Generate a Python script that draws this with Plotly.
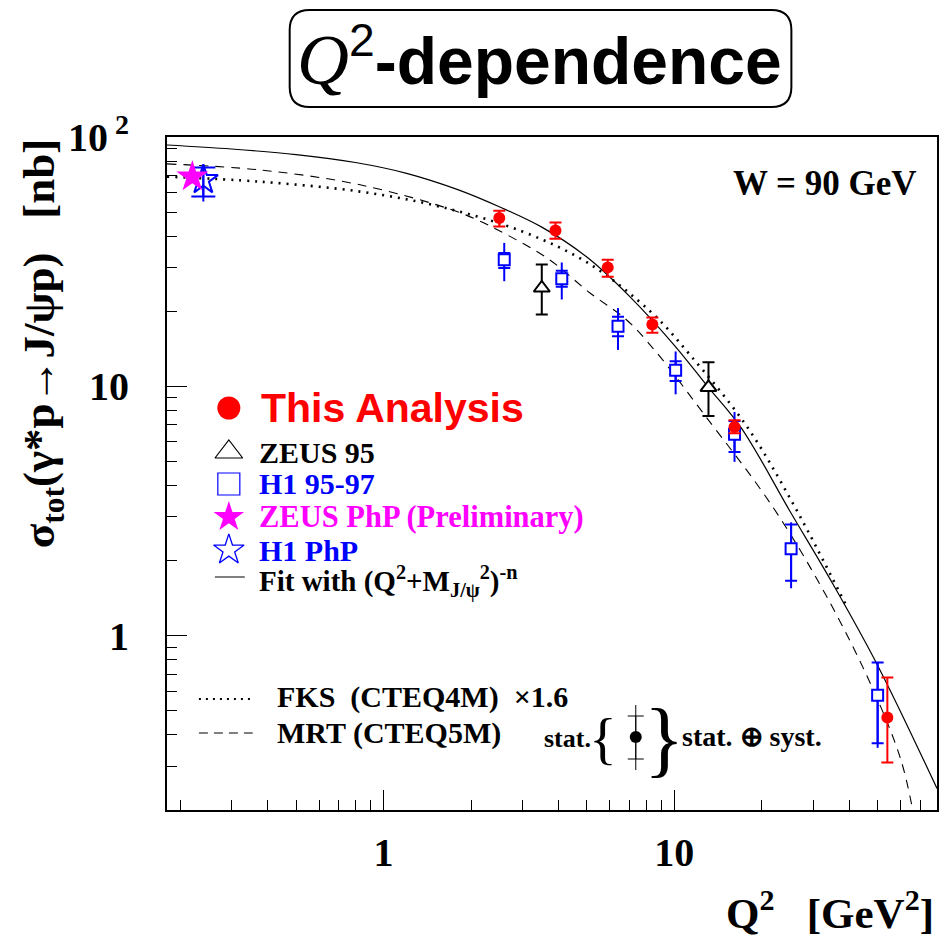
import plotly.graph_objects as go

# ---------------- measurements: sigma_tot(gamma* p -> J/psi p) at W = 90 GeV ----------------
# This analysis
ana_q2 = [2.5, 3.9, 5.9, 8.4, 16.1, 54.0]
ana_sig = [47.3, 42.2, 30.0, 17.7, 6.87, 0.47]
ana_hi = [50.6, 45.4, 32.2, 18.9, 7.31, 0.68]
ana_lo = [43.8, 39.1, 27.5, 16.4, 6.49, 0.31]

# ZEUS 95
z95_q2 = [3.5, 13.1]
z95_sig = [24.8, 9.9]
z95_hi = [30.8, 12.5]
z95_lo = [19.4, 7.6]

# H1 95-97
h1_q2 = [2.6, 4.1, 6.4, 10.1, 16.1, 25.2, 50.0]
h1_sig = [32.2, 27.0, 17.4, 11.6, 6.43, 2.23, 0.577]
h1_stat_hi = [34.3, 29.1, 19.0, 12.6, 7.26, 2.79, 0.78]
h1_stat_lo = [29.8, 25.1, 15.9, 10.5, 5.46, 1.66, 0.37]
h1_tot_hi = [37.6, 31.4, 20.6, 13.8, 7.89, 2.85, 0.785]
h1_tot_lo = [26.4, 22.3, 14.0, 9.29, 4.98, 1.55, 0.355]

# Photoproduction points
zphp_q2 = [0.22]
zphp_sig = [69.3]
h1php_q2 = [0.24]
h1php_sig = [67.3]
h1php_stat_hi = [75.4]
h1php_stat_lo = [57.7]
h1php_tot_hi = [77.8]
h1php_tot_lo = [55.1]

# ---------------- curves ----------------
fit_q2 = [0.18, 0.3, 0.5, 0.8, 1.2, 1.8, 2.5, 3.5, 5.0, 7.0, 10.0, 13.0, 17.0, 25.0, 35.0, 50.0, 80.0]
fit_sig = [92.9, 89.5, 85.0, 79.0, 71.5, 61.5, 52.5, 43.5, 33.0, 23.0, 14.6, 10.0, 6.8, 3.15, 1.62, 0.76, 0.244]

fks_q2 = [0.18, 0.375, 0.83, 1.56, 3.0, 5.1, 8.41, 11.3, 17.7, 25.4, 39.0]
fks_sig = [69.3, 66.2, 60.4, 52.6, 41.8, 31.0, 19.6, 13.4, 6.94, 3.44, 1.32]

mrt_q2 = [0.18, 0.375, 0.83, 1.83, 2.65, 3.72, 5.1, 6.84, 8.67, 12.5, 21.7, 33.3, 47.9, 60.0, 66.0]
mrt_sig = [78.0, 73.8, 64.3, 49.7, 40.6, 32.2, 23.8, 18.5, 13.7, 7.87, 3.31, 1.445, 0.62, 0.32, 0.20]

# axis ticks
x_major = [1, 10]
x_major_text = ["1", "10"]
y_major = [1, 10, 100]
y_major_text = ["1", "10", "10<sup> 2</sup>"]
x_minor = [m * d for d in (0.1, 1, 10) for m in range(2, 10) if 0.18 <= m * d <= 80]
y_minor = [m * d for d in (0.1, 1, 10) for m in range(2, 10) if 0.2 <= m * d <= 100]

# ---------------- geometry helpers (pixel -> paper) ----------------
W, H = 940, 938
L, R, T, B = 167, 939, 137, 810


def px(x):
    return (x - L) / (R - L)


def py(y):
    return (B - y) / (B - T)


SERIF = "Liberation Serif"
SANS = "Liberation Sans"
RED, BLUE, MAG = "#ff0000", "#0000ff", "#ff00ff"


def err(vals, hi, lo):
    return [h - v for h, v in zip(hi, vals)], [v - l for l, v in zip(lo, vals)]


fig = go.Figure()

# curves
fig.add_trace(go.Scatter(x=fit_q2, y=fit_sig, mode="lines",
                         line=dict(color="black", width=1.2, shape="spline")))
fig.add_trace(go.Scatter(x=fks_q2, y=fks_sig, mode="lines",
                         line=dict(color="black", width=2.6, dash="2px,6px", shape="spline")))
fig.add_trace(go.Scatter(x=mrt_q2, y=mrt_sig, mode="lines",
                         line=dict(color="black", width=1.1, dash="9px,7px", shape="spline")))

# H1 95-97: total (no caps) then stat (caps)
p, m = err(h1_sig, h1_tot_hi, h1_tot_lo)
fig.add_trace(go.Scatter(x=h1_q2, y=h1_sig, mode="markers", marker=dict(size=1, color=BLUE),
                         error_y=dict(type="data", array=p, arrayminus=m, color=BLUE,
                                      thickness=2, width=0)))
p, m = err(h1_sig, h1_stat_hi, h1_stat_lo)
fig.add_trace(go.Scatter(x=h1_q2, y=h1_sig, mode="markers",
                         marker=dict(symbol="square", size=11, color="white",
                                     line=dict(color=BLUE, width=2)),
                         error_y=dict(type="data", array=p, arrayminus=m, color=BLUE,
                                      thickness=2, width=6)))

# ZEUS 95
p, m = err(z95_sig, z95_hi, z95_lo)
fig.add_trace(go.Scatter(x=z95_q2, y=z95_sig, mode="markers",
                         marker=dict(symbol="triangle-up", size=14, color="white",
                                     line=dict(color="black", width=2)),
                         error_y=dict(type="data", array=p, arrayminus=m, color="black",
                                      thickness=2, width=6)))

# H1 photoproduction
p, m = err(h1php_sig, h1php_tot_hi, h1php_tot_lo)
fig.add_trace(go.Scatter(x=h1php_q2, y=h1php_sig, mode="markers", marker=dict(size=1, color=BLUE),
                         error_y=dict(type="data", array=p, arrayminus=m, color=BLUE,
                                      thickness=2, width=0)))
p, m = err(h1php_sig, h1php_stat_hi, h1php_stat_lo)
fig.add_trace(go.Scatter(x=h1php_q2, y=h1php_sig, mode="markers",
                         marker=dict(symbol="star-open", size=22, color=BLUE,
                                     line=dict(color=BLUE, width=2)),
                         error_y=dict(type="data", array=p, arrayminus=m, color=BLUE,
                                      thickness=2, width=12)))

# ZEUS photoproduction
fig.add_trace(go.Scatter(x=zphp_q2, y=zphp_sig, mode="markers",
                         marker=dict(symbol="star", size=24, color=MAG, line=dict(width=0))))

# This analysis
p, m = err(ana_sig, ana_hi, ana_lo)
fig.add_trace(go.Scatter(x=ana_q2, y=ana_sig, mode="markers",
                         marker=dict(symbol="circle", size=12, color=RED, line=dict(width=0)),
                         error_y=dict(type="data", array=p, arrayminus=m, color=RED,
                                      thickness=2, width=6)))

# ---------------- legend glyphs on a pixel-space overlay ----------------
leg_x = 229
rows = [408, 452, 484, 517, 550, 580]


def glyph(y, **marker):
    fig.add_trace(go.Scatter(x=[leg_x], y=[y], mode="markers", xaxis="x2", yaxis="y2",
                             marker=marker))


glyph(rows[0], symbol="circle", size=23, color=RED)
glyph(rows[1], symbol="triangle-up-open", size=24, color="black", line=dict(width=1.2))
glyph(rows[2], symbol="square-open", size=22, color=BLUE, line=dict(width=1.2))
glyph(rows[3], symbol="star", size=23, color=MAG)
glyph(rows[4], symbol="star-open", size=23, color=BLUE, line=dict(width=1.3))
fig.add_trace(go.Scatter(x=[215, 245], y=[rows[5] - 3, rows[5] - 3], mode="lines",
                         xaxis="x2", yaxis="y2", line=dict(color="black", width=1)))
fig.add_trace(go.Scatter(x=[199, 253], y=[699, 699], mode="lines", xaxis="x2", yaxis="y2",
                         line=dict(color="black", width=2, dash="2px,5px")))
fig.add_trace(go.Scatter(x=[199, 253], y=[733, 733], mode="lines", xaxis="x2", yaxis="y2",
                         line=dict(color="black", width=1, dash="9px,6px")))
# error-bar key
fig.add_trace(go.Scatter(x=[637], y=[737], mode="markers", xaxis="x2", yaxis="y2",
                         marker=dict(size=1, color="black"),
                         error_y=dict(type="data", array=[33], arrayminus=[32],
                                      color="black", thickness=1, width=0)))
fig.add_trace(go.Scatter(x=[637], y=[737], mode="markers", xaxis="x2", yaxis="y2",
                         marker=dict(size=12, color="black"),
                         error_y=dict(type="data", array=[22], arrayminus=[21],
                                      color="black", thickness=1, width=8)))

# ---------------- text ----------------
ann = []


def text(x, y, s, size, color="black", family=SERIF, xa="left", ya="middle", angle=0):
    ann.append(dict(x=px(x), y=py(y), xref="paper", yref="paper", text=s, showarrow=False,
                    xanchor=xa, yanchor=ya, textangle=angle,
                    font=dict(family=family, size=size, color=color)))


text(259, 408, "<b>This Analysis</b>", 41, RED, SANS)
text(257, 452, "<b>ZEUS 95</b>", 30)
text(257, 484, "<b>H1 95-97</b>", 30, BLUE)
text(257, 517, "<b>ZEUS PhP (Preliminary)</b>", 30.5, MAG)
text(257, 550, "<b>H1 PhP</b>", 30, BLUE)
text(257, 581, "<b>Fit with (Q<sup>2</sup>+M<sub>J/ψ</sub><sup>2</sup>)<sup>-n</sup></b>", 29)
text(275, 697, "<b>FKS  (CTEQ4M)  ×1.6</b>", 30)
text(275, 733, "<b>MRT (CTEQ5M)</b>", 30)
text(543, 738, "<b>stat.</b>", 26)
text(620, 738, "{", 58, xa="right")
text(643, 738, "}", 84)
text(681, 736, "<b>stat. ⊕ syst.</b>", 28)

text(921, 183, "<b>W = 90 GeV</b>", 35, xa="right")
text(938, 910, "<b>Q<sup>2</sup>   [GeV<sup>2</sup>]</b>", 43, xa="right")
text(42, 343, "<b>σ<sub>tot</sub>(γ*p→J/ψp)   [nb]</b>", 45, xa="center", angle=-90)

# title: italic serif Q with superscript 2, then the bold sans word
text(540, 57,
     "<span style='font-family:Liberation Serif;font-size:72px'><i>Q</i></span>"
     "<sup>2</sup><b>-dependence</b>",
     66, family=SANS, xa="center")

# rounded title box
x0, x1, y0, y1, r = 290, 793, 10, 107, 20
path = (f"M {px(x0 + r)},{py(y0)} L {px(x1 - r)},{py(y0)} "
        f"Q {px(x1)},{py(y0)} {px(x1)},{py(y0 + r)} L {px(x1)},{py(y1 - r)} "
        f"Q {px(x1)},{py(y1)} {px(x1 - r)},{py(y1)} L {px(x0 + r)},{py(y1)} "
        f"Q {px(x0)},{py(y1)} {px(x0)},{py(y1 - r)} L {px(x0)},{py(y0 + r)} "
        f"Q {px(x0)},{py(y0)} {px(x0 + r)},{py(y0)} Z")
shapes = [dict(type="path", path=path, xref="paper", yref="paper",
               line=dict(color="black", width=2))]

axis_common = dict(showline=True, linecolor="black", linewidth=2, mirror=True,
                   showgrid=False, zeroline=False, ticks="inside", tickcolor="black",
                   tickwidth=1.2, ticklen=20,
                   tickfont=dict(family=SERIF, size=40, color="black", weight="bold"))

fig.update_layout(
    width=W, height=H, margin=dict(l=L, r=W - R, t=T, b=H - B),
    plot_bgcolor="white", paper_bgcolor="white", showlegend=False,
    xaxis=dict(type="log", range=[-0.7447, 1.9031], tickmode="array",
               tickvals=x_major, ticktext=x_major_text, ticklabelstandoff=6,
               minor=dict(tickmode="array", tickvals=x_minor, ticks="inside", ticklen=10,
                          tickcolor="black", tickwidth=1),
               **axis_common),
    yaxis=dict(type="log", range=[-0.699, 2.0], tickmode="array",
               tickvals=y_major, ticktext=y_major_text, ticklabelstandoff=28,
               minor=dict(tickmode="array", tickvals=y_minor, ticks="inside", ticklen=10,
                          tickcolor="black", tickwidth=1),
               **axis_common),
    xaxis2=dict(overlaying="x", range=[L, R], visible=False),
    yaxis2=dict(overlaying="y", range=[B, T], visible=False),
    annotations=ann, shapes=shapes,
)

fig.write_html("out.html")
